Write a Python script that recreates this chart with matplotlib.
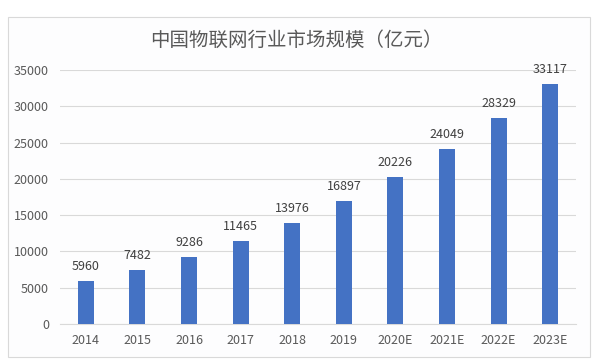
import matplotlib
matplotlib.use("Agg")
import matplotlib.pyplot as plt
from matplotlib.patches import Rectangle
import numpy as np

plt.rcParams['font.family'] = ['Noto Sans CJK SC', 'DejaVu Sans']

years = ['2014', '2015', '2016', '2017', '2018', '2019', '2020E', '2021E', '2022E', '2023E']
market_size = [5960, 7482, 9286, 11465, 13976, 16897, 20226, 24049, 28329, 33117]
title = '中国物联网行业市场规模（亿元）'

fig = plt.figure(figsize=(5.92, 3.62), dpi=100)
fig.patch.set_facecolor('white')
# outer chart frame
fig.patches.append(Rectangle((8 / 592, 5 / 362), 582 / 592, 340 / 362,
                             transform=fig.transFigure, facecolor='#fdfdfe',
                             edgecolor='#d9d9d9', linewidth=0.8, zorder=-5))

ax = fig.add_axes([60 / 592, 38 / 362, 516 / 592, 254 / 362])
ax.set_facecolor('none')
ax.set_zorder(2)

x = np.arange(len(years))
bars = ax.bar(x, market_size, width=0.31, color='#4472C4', zorder=3)
for xi, v in zip(x, market_size):
    ax.text(xi, v + 1100, str(v), ha='center', va='bottom', fontsize=9, color='#404040')

ax.set_xlim(-0.5, len(years) - 0.5)
ax.set_ylim(0, 35000)
ax.set_yticks(np.arange(0, 35001, 5000))
ax.set_xticks(x)
ax.set_xticklabels(years)
ax.yaxis.grid(True, color='#d9d9d9', linewidth=0.8, zorder=0)
ax.tick_params(axis='both', length=0, labelsize=9, colors='#595959')
ax.tick_params(axis='x', pad=7)
ax.tick_params(axis='y', pad=8)
for s in ['top', 'right', 'left']:
    ax.spines[s].set_visible(False)
ax.spines['bottom'].set_color('#d9d9d9')

fig.text(296 / 592, 1 - 40 / 362, title, ha='center', va='center', fontsize=14, color='#595959')

fig.savefig('out.png', dpi=100)
